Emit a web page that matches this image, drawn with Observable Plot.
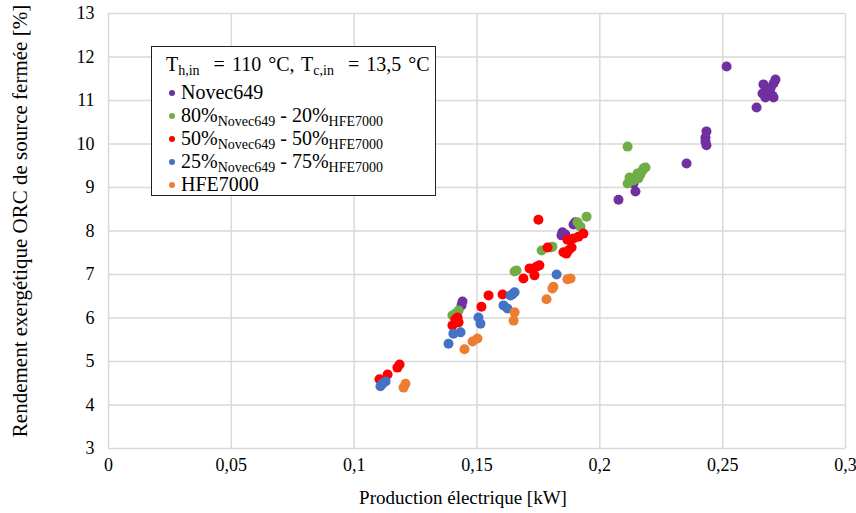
<!DOCTYPE html>
<html><head><meta charset="utf-8">
<script src="https://cdn.jsdelivr.net/npm/d3@7"></script>
<script src="https://cdn.jsdelivr.net/npm/@observablehq/plot@0.6"></script>
<style>
body{margin:0;background:#fff;}
#wrap{position:relative;width:856px;height:513px;font-family:"Liberation Serif",serif;}
#wrap svg, #wrap svg text{font-family:"Liberation Serif",serif !important;}
#legend{position:absolute;left:151px;top:46px;width:285px;height:150px;border:1.5px solid #222;background:#fff;font-size:20px;color:#000;box-sizing:border-box;}
#legend .t{position:absolute;left:14px;top:6px;white-space:pre;word-spacing:2px;}
#legend .it{position:absolute;left:29px;white-space:nowrap;line-height:20px;}
#legend .it i{position:absolute;left:-12px;top:8px;width:6px;height:6px;border-radius:50%;}
#legend sub{font-size:14px;vertical-align:-4px;line-height:0;}
</style></head>
<body><div id="wrap"></div>
<script>
const series = ["Novec649","80/20","50/50","25/75","HFE7000"];
const colors = ["#7030A0","#70AD47","#FF0000","#4472C4","#ED7D31"];
const xTicks = [0,0.05,0.1,0.15,0.2,0.25,0.3];
const yTicks = [3,4,5,6,7,8,9,10,11,12,13];

const novecX = [0.2516,0.2715,0.2707,0.2666,0.2662,0.2674,0.2703,0.2707,0.2686,0.2695,0.2638,0.2434,0.2430,0.2434,0.2430,0.2353,0.2076,0.2145,0.2137,0.1893,0.1900,0.1848,0.1860,0.1844,0.1441,0.1437];
const novecY = [11.78,11.48,11.39,11.37,11.16,11.07,11.11,11.07,11.18,11.28,10.84,10.29,10.15,9.97,10.06,9.55,8.72,8.91,9.09,8.15,8.20,7.97,7.92,7.90,6.38,6.29];
const m80X = [0.2113,0.2186,0.2174,0.2153,0.2157,0.2121,0.2113,0.2137,0.2165,0.2178,0.1946,0.1909,0.1921,0.1807,0.1800,0.1763,0.1661,0.1653,0.1425,0.1400,0.1412];
const m80Y = [9.94,9.46,9.39,9.32,9.21,9.23,9.09,9.16,9.30,9.44,8.33,8.20,8.10,7.64,7.62,7.55,7.09,7.07,6.17,6.06,6.10];
const m50X = [0.1750,0.1933,0.1913,0.1893,0.1868,0.1885,0.1872,0.1852,0.1864,0.1787,0.1754,0.1742,0.1714,0.1734,0.1689,0.1604,0.1547,0.1518,0.1421,0.1425,0.1400,0.1412,0.1185,0.1176,0.1136,0.1103];
const m50Y = [8.26,7.94,7.87,7.83,7.80,7.62,7.55,7.51,7.48,7.62,7.21,7.18,7.14,6.98,6.91,6.54,6.52,6.26,6.01,5.90,5.83,5.97,4.93,4.86,4.70,4.59];
const m25X = [0.1824,0.1653,0.1644,0.1636,0.1608,0.1624,0.1506,0.1514,0.1433,0.1404,0.1384,0.1128,0.1107,0.1115];
const m25Y = [7.00,6.59,6.54,6.52,6.29,6.22,6.01,5.87,5.67,5.64,5.41,4.54,4.43,4.49];
const hfeX = [0.1881,0.1868,0.1811,0.1807,0.1783,0.1653,0.1649,0.1502,0.1482,0.1449,0.1209,0.1201];
const hfeY = [6.91,6.89,6.72,6.68,6.43,6.13,5.94,5.53,5.46,5.28,4.49,4.40];

const xs = [novecX,m80X,m50X,m25X,hfeX];
const ys = [novecY,m80Y,m50Y,m25Y,hfeY];
const data = [];
series.forEach((s,i)=>xs[i].forEach((x,j)=>data.push({s,x,y:ys[i][j]})));

const fmt = d => d===0 ? "0" : String(d).replace(".",",");

const chart = Plot.plot({
  width:856, height:513,
  marginLeft:108, marginRight:11, marginTop:13, marginBottom:65,
  style:{fontFamily:"Liberation Serif", fontSize:"18px", color:"#000", background:"#fff"},
  x:{domain:[0,0.3]},
  y:{domain:[3,13]},
  color:{domain:series, range:colors},
  marks:[
    Plot.gridX(xTicks,{stroke:"#d9d9d9", strokeOpacity:1, strokeWidth:1.5}),
    Plot.gridY(yTicks,{stroke:"#d9d9d9", strokeOpacity:1, strokeWidth:1.5}),
    Plot.axisX(xTicks,{tickSize:0, tickPadding:10, tickFormat:fmt, label:null, fontSize:18}),
    Plot.axisY(yTicks,{tickSize:0, tickPadding:14, label:null, fontSize:18}),
    Plot.dot(data,{x:"x", y:"y", fill:"s", r:5}),
    Plot.text(["Rendement exergétique ORC de source fermée [%]"],{frameAnchor:"left", textAnchor:"middle", lineAnchor:"middle", dx:-88, dy:-10, rotate:-90, fontSize:21, fill:"#000"}),
    Plot.text(["Production électrique [kW]"],{frameAnchor:"bottom", textAnchor:"middle", lineAnchor:"middle", dx:-14, dy:49, fontSize:19, fill:"#000"})
  ]
});
const wrap = document.getElementById("wrap");
wrap.appendChild(chart);

const legend = document.createElement("div");
legend.id = "legend";
const labelsHtml = [
  "Novec649",
  "80%<sub>Novec649</sub> - 20%<sub>HFE7000</sub>",
  "50%<sub>Novec649</sub> - 50%<sub>HFE7000</sub>",
  "25%<sub>Novec649</sub> - 75%<sub>HFE7000</sub>",
  "HFE7000"
];
let html = '<div class="t">T<sub>h,in</sub>  = 110 °C, T<sub>c,in</sub>  = 13,5 °C</div>';
labelsHtml.forEach((h,i)=>{
  html += `<div class="it" style="top:${35+i*23}px"><i style="background:${colors[i]}"></i>${h}</div>`;
});
legend.innerHTML = html;
wrap.appendChild(legend);
</script></body></html>
